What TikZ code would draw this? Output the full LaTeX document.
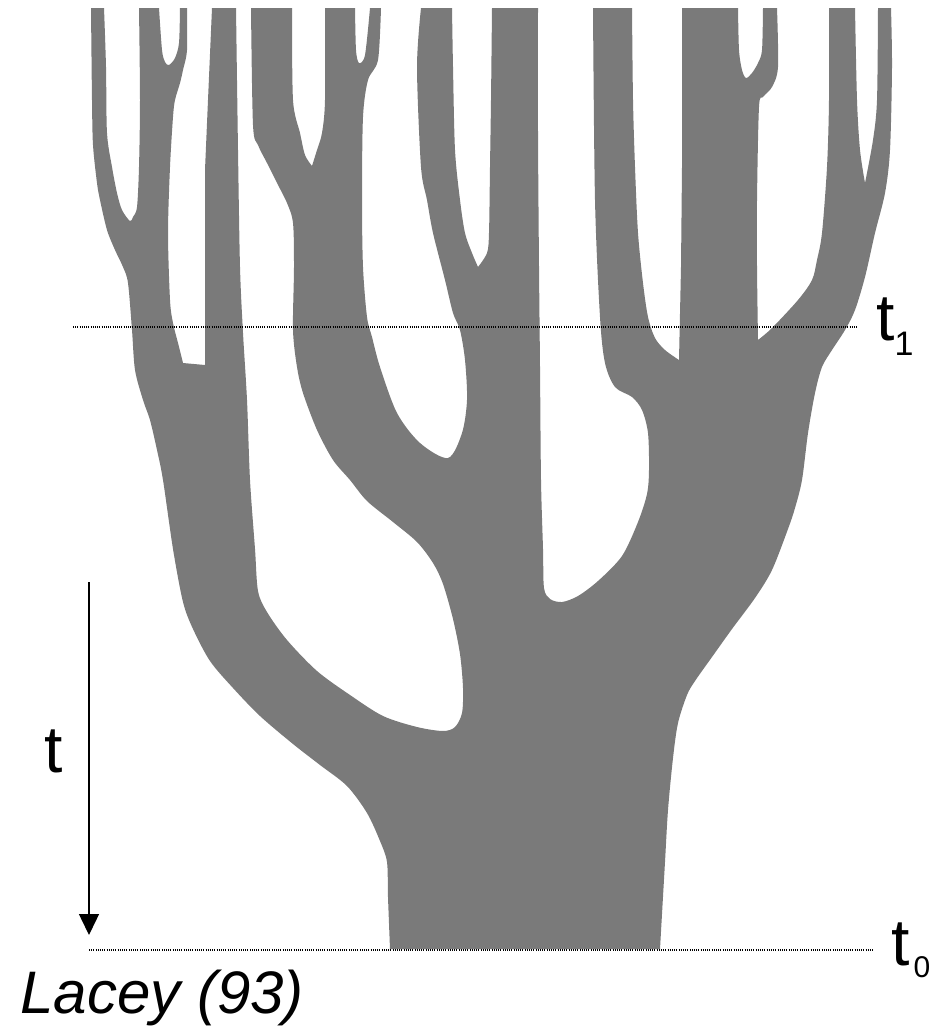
\documentclass[tikz,border=0pt]{standalone}
\usepackage{fontspec}
\setmainfont{Liberation Sans}
\usepackage{xcolor}
\usetikzlibrary{arrows.meta,positioning}
\definecolor{treegray}{RGB}{122,122,122}

\begin{document}
\begin{tikzpicture}[x=0.5pt,y=-0.5pt,
   lbl/.style={inner sep=0pt,anchor=base west,font=\fontsize{33}{38}\selectfont},
   level/.style={line width=0.6pt,dash pattern=on 0.5pt off 0.6pt},
   timeax/.style={line width=0.7pt,-{Triangle[width=10pt,length=10.5pt]}}]
  \useasboundingbox (0,0) rectangle (945,1028);
  \fill[treegray]
    plot[smooth] coordinates {(390,949) (388,897) (387,862) (380,841) (367,813) (347,786) (320,765) (293,744) (260,716) (233,688) (210,661) (193,629) (183,602) (173,549) (163,480) (157,450) (150,420) (143,400) (135,370) (132,330) (128,283) (123,267) (115,250) (107,230) (100,200) (97,183) (93,145) (92,100) (91,8)}
    -- plot[smooth] coordinates {(104,8) (106,67) (107,133) (112,167) (117,193) (122,210) (130,221) (133,217) (137,207) (139,167) (140,100) (139,8)}
    -- plot[smooth] coordinates {(159,8) (162,50) (165,62) (169,65) (175,58) (179,43) (180,8)}
    -- plot[smooth] coordinates {(187,8) (187,50) (183,70) (180,83) (175,100) (173,117) (170,167) (168,233) (170,300) (173,323) (178,343) (183,363)}
    -- (205,365) -- (205,170) -- (208,100) -- (212,8)
    -- plot[smooth] coordinates {(236,8) (238,150) (240,267) (243,333) (247,400) (250,480) (255,549) (258,591) (267,612) (287,640) (317,671) (350,695) (383,716) (417,727) (443,731) (455,727) (462,713) (463,688) (460,654) (453,619) (443,584) (433,563) (417,542) (393,522) (367,501) (350,480) (333,460) (317,430) (303,393) (297,367) (293,330) (294,267) (293,223) (287,203) (277,183) (267,163) (258,145) (253,125) (251,8)}
    -- plot[smooth] coordinates {(292,8) (293,100) (300,133) (305,155) (312,166)}
    -- plot[smooth] coordinates {(312,166) (317,150) (322,133) (325,100) (325,8)}
    -- plot[smooth] coordinates {(355,8) (356,50) (359,63) (365,55) (370,8)}
    -- plot[smooth] coordinates {(381,8) (378,60) (368,80) (363,117) (362,200) (363,267) (367,317) (372,337) (380,367) (397,413) (420,443) (448,458) (462,433) (467,400) (465,360) (460,330) (453,313) (445,280) (433,233) (427,200) (421,167) (417,67) (421,8)}
    -- plot[smooth] coordinates {(452,8) (453,67) (455,150) (460,200) (465,233) (472,253) (478,267)}
    -- plot[smooth] coordinates {(478,267) (487,253) (489,233) (490,167) (491,100) (492,8)}
    -- plot[smooth] coordinates {(538,8) (538,133) (539,267) (540,367) (541,480) (543,549) (544,588) (550,599) (562,602) (578,596) (598,581) (622,556) (638,522) (647,494) (649,470) (648,433) (642,410) (632,397) (615,387) (605,363) (600,317) (595,200) (593,8)}
    -- plot[smooth] coordinates {(632,8) (633,100) (635,167) (638,233) (643,283) (648,317) (655,338) (665,350) (679,360)}
    -- (681,267) -- (682,167) -- (682,8)
    -- plot[smooth] coordinates {(738,8) (739,50) (742,70) (746,78) (752,73) (758,63) (762,50) (763,8)}
    -- plot[smooth] coordinates {(777,8) (778,67) (772,87) (763,97) (759,107) (757,200) (757,267) (758,340)}
    -- plot[smooth] coordinates {(758,340) (772,328) (798,300) (812,280) (817,260) (822,233) (827,167) (829,100) (829,8)}
    -- plot[smooth] coordinates {(855,8) (857,100) (860,150) (865,183)}
    -- plot[smooth] coordinates {(865,183) (873,140) (877,100) (878,8)}
    -- plot[smooth] coordinates {(891,8) (892,67) (890,150) (885,193) (875,233) (865,277) (855,310) (845,330) (832,350) (822,367) (815,393) (808,433) (802,480) (795,508) (788,529) (772,570) (755,598) (732,629) (712,657) (695,681) (687,695) (678,723) (673,758) (668,810) (665,862) (662,914) (660,949)}
    -- cycle;
  \coordinate (l1a) at (73,327);
  \coordinate (l1b) at (858,327);
  \coordinate (l0a) at (89,950);
  \coordinate (l0b) at (873,950);
  \coordinate (ta) at (89,582);
  \coordinate (tb) at (89,935);
  \draw[level] (l1a) -- (l1b);
  \draw[level] (l0a) -- (l0b);
  \draw[timeax] (ta) -- (tb);
  \node[lbl] (t1) at (876,340) {t\lower7.5pt\hbox{\fontsize{17}{20}\selectfont 1}};
  \node[lbl] (t0) at (891,965) {t\kern2pt\lower6pt\hbox{\fontsize{15}{18}\selectfont 0}};
  \node[lbl] (tax) at (44,772) {t};
  \node[lbl,font=\fontsize{30}{36}\selectfont\itshape] (src) at (20,1013) {Lacey (93)};
\end{tikzpicture}
\end{document}
